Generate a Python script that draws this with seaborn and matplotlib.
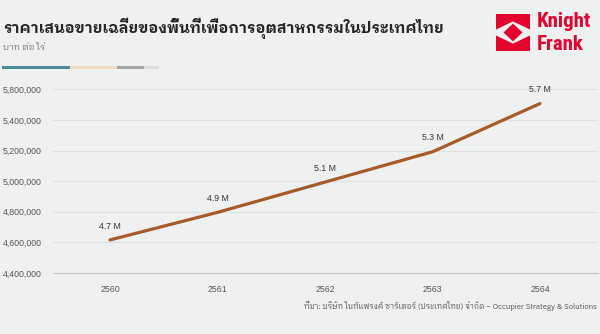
import numpy as np
import pandas as pd
import matplotlib
matplotlib.use("Agg")
import matplotlib.pyplot as plt
import seaborn as sns
from matplotlib.patches import Polygon, Rectangle

# ---- data -------------------------------------------------------------
years = ["2560", "2561", "2562", "2563", "2564"]
prices = [4_700_000, 4_900_000, 5_120_000, 5_340_000, 5_690_000]
ytick_labels = ["4,400,000", "4,600,000", "4,800,000", "5,000,000",
                "5,200,000", "5,400,000", "5,800,000"]

title = "ราคาเสนอขายเฉลี่ยของพื้นที่เพื่อการอุตสาหกรรมในประเทศไทย"
subtitle = "บาท ต่อ ไร่"
source = "ที่มา: บริษัท ไนท์แฟรงค์ ชาร์เตอร์ (ประเทศไทย) จำกัด – Occupier Strategy & Solutions"

BG = "#eff1f0"
LINE = "#a65b28"
RED = "#e4032e"

sns.set_theme(style="white", rc={"figure.facecolor": BG, "axes.facecolor": BG})
base_fam = ["Liberation Sans", "DejaVu Sans"]
thai_fam = ["IBM Plex Sans Thai Looped", "Noto Sans Thai Looped", "DejaVu Sans"]
plt.rcParams["font.family"] = base_fam

W, H = 600, 334
fig = plt.figure(figsize=(W / 100, H / 100), dpi=100)


def fx(px):
    return px / W


def fy(py):
    return 1 - py / H


ax = fig.add_axes([fx(53), fy(273), fx(598) - fx(53), fy(85) - fy(273)])
ax.set_facecolor(BG)

df = pd.DataFrame({"year": years, "price": prices})
sns.lineplot(data=df, x="year", y="price", color=LINE, linewidth=2.3,
             sort=False, ax=ax)

for i, v in enumerate(df["price"]):
    ax.annotate(f"{v / 1e6:.1f} M", (i, v), xytext=(0, 10),
                textcoords="offset points", ha="center", va="center",
                fontsize=6.3, color="#333333")

yticks = np.linspace(4.46e6, 5.793e6, len(ytick_labels))
ax.set_yticks(yticks)
ax.set_yticklabels(ytick_labels)
ax.set_ylim(4.46e6, 5.825e6)
ax.set_xlim(-0.53, 4.54)
ax.set_xlabel("")
ax.set_ylabel("")
ax.grid(axis="y", color="#dde0df", linewidth=0.8)
ax.grid(axis="x", visible=False)
for s in ("top", "right", "left"):
    ax.spines[s].set_visible(False)
ax.spines["bottom"].set_color("#c4c6c5")
ax.spines["bottom"].set_linewidth(0.9)
ax.tick_params(axis="y", length=0, pad=8, labelsize=6.3, labelcolor="#555555")
ax.tick_params(axis="x", length=0, pad=9, labelsize=6.3, labelcolor="#555555")

# ---- header -------------------------------------------------------------
fig.text(fx(3), fy(28), title, family=thai_fam, fontsize=10.9,
         fontweight="bold", color="#262626", ha="left", va="center")
fig.text(fx(3), fy(47), subtitle, family=thai_fam, fontsize=6.5,
         color="#777777", ha="left", va="center")

for x0, x1, c in [(2, 70, "#4b8c9c"), (70, 117, "#f0dcc2"),
                  (117, 144, "#a3a6a5"), (144, 159, "#dcdedd")]:
    fig.add_artist(Rectangle((fx(x0), fy(68.5)), fx(x1) - fx(x0), 2 / H,
                             transform=fig.transFigure, color=c, lw=0))

# ---- logo -----------------------------------------------------------------
lax = fig.add_axes([fx(496), fy(51), fx(530) - fx(496), fy(14) - fy(51)])
lax.set_xlim(0, 1)
lax.set_ylim(0, 1)
lax.axis("off")
shapes = [
    [(0, 1), (1, 1), (1, 0.58), (0.5, 0.8), (0, 0.58)],
    [(0, 0), (1, 0), (1, 0.42), (0.5, 0.2), (0, 0.42)],
    [(0.5, 0.74), (0.78, 0.5), (0.5, 0.26), (0.22, 0.5)],
]
for pts in shapes:
    lax.add_patch(Polygon(pts, closed=True, color=RED, lw=0))

logo_fam = ["Liberation Sans Narrow", "Roboto Condensed", "Liberation Sans"]
fig.text(fx(537), fy(27), "Knight", family=logo_fam, fontsize=15,
         fontweight="bold", color=RED, ha="left", va="baseline")
fig.text(fx(537), fy(49.5), "Frank", family=logo_fam, fontsize=15,
         fontweight="bold", color=RED, ha="left", va="baseline")

# ---- footer ---------------------------------------------------------------
fig.text(fx(597), fy(306), source, family=thai_fam, fontsize=5.55,
         color="#555555", ha="right", va="center")

fig.savefig("out.png", dpi=100, facecolor=BG)
